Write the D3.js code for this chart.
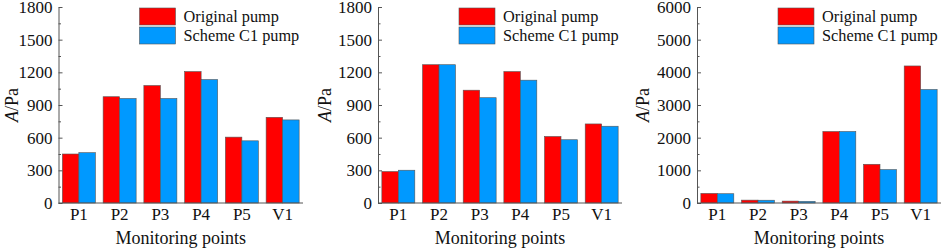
<!DOCTYPE html>
<html>
<head>
<meta charset="utf-8">
<script src="https://d3js.org/d3.v7.min.js"></script>
<style>
  body { margin: 0; background: #fff; }
</style>
</head>
<body>
<svg id="chart" width="941" height="249"></svg>
<script>
const categories = ["P1", "P2", "P3", "P4", "P5", "V1"];
const seriesNames = ["Original pump", "Scheme C1 pump"];
const seriesColors = ["#ff0000", "#0099ff"];

// panel (a)
const panel1Original = [450, 976, 1079, 1207, 605, 787];
const panel1Scheme   = [462, 960, 960, 1134, 571, 763];
const panel1Ticks    = [0, 300, 600, 900, 1200, 1500, 1800];

// panel (b)
const panel2Original = [289, 1270, 1036, 1207, 611, 726];
const panel2Scheme   = [301, 1270, 967, 1128, 581, 705];
const panel2Ticks    = [0, 300, 600, 900, 1200, 1500, 1800];

// panel (c)
const panel3Original = [294, 88, 58, 2189, 1185, 4195];
const panel3Scheme   = [284, 85, 50, 2189, 1023, 3475];
const panel3Ticks    = [0, 1000, 2000, 3000, 4000, 5000, 6000];

const FONT = "'Liberation Serif', 'Times New Roman', serif";
const svg = d3.select("#chart");
const plotTop = 7, plotBottom = 203;

const panels = [
  { x0: 58.5, x1: 303, orig: panel1Original, scheme: panel1Scheme, ticks: panel1Ticks, yTitleX: 12 },
  { x0: 378, x1: 622, orig: panel2Original, scheme: panel2Scheme, ticks: panel2Ticks, yTitleX: 325 },
  { x0: 697, x1: 941, orig: panel3Original, scheme: panel3Scheme, ticks: panel3Ticks, yTitleX: 643 }
];

panels.forEach(p => {
  const g = svg.append("g");
  const yMax = p.ticks[p.ticks.length - 1];
  const y = d3.scaleLinear([0, yMax], [plotBottom, plotTop]);
  const x = d3.scaleBand(categories, [p.x0, p.x1]).paddingInner(0.19).paddingOuter(0.095);
  const xSub = d3.scaleBand([0, 1], [0, x.bandwidth()]);

  const rows = categories.map((c, i) => ({ cat: c, vals: [p.orig[i], p.scheme[i]] }));

  // bars
  g.selectAll("g.grp")
    .data(rows)
    .join("g")
      .attr("class", "grp")
      .attr("transform", d => `translate(${x(d.cat)},0)`)
    .selectAll("rect")
    .data(d => d.vals.map((v, k) => ({ v, k })))
    .join("rect")
      .attr("x", d => xSub(d.k))
      .attr("width", xSub.bandwidth())
      .attr("y", d => y(d.v))
      .attr("height", d => plotBottom - y(d.v))
      .attr("fill", d => seriesColors[d.k])
      .attr("stroke", "#555")
      .attr("stroke-width", 0.6);

  // minor ticks
  const step = p.ticks[1] - p.ticks[0];
  const minor = d3.range(step / 2, yMax, step);
  g.append("g")
    .attr("transform", `translate(${p.x0},0)`)
    .call(d3.axisRight(y).tickValues(minor).tickSize(2.5).tickFormat(""))
    .call(a => a.select(".domain").remove())
    .call(a => a.selectAll("line").attr("stroke", "#555"));

  // y axis
  g.append("g")
    .attr("transform", `translate(${p.x0},0)`)
    .call(d3.axisRight(y).tickValues(p.ticks).tickSize(4).tickSizeOuter(0).tickFormat(""))
    .call(a => a.selectAll("line, path").attr("stroke", "#555"));

  g.append("g")
    .selectAll("text")
    .data(p.ticks)
    .join("text")
      .attr("x", p.x0 - 6)
      .attr("y", d => y(d))
      .attr("dy", "0.36em")
      .attr("text-anchor", "end")
      .attr("fill", "#111")
      .style("font-family", FONT)
      .style("font-size", "17px")
      .text(d => d);

  // x axis
  g.append("g")
    .attr("transform", `translate(0,${plotBottom})`)
    .call(d3.axisBottom(x).tickSize(0).tickPadding(5))
    .call(a => a.select(".domain").attr("stroke", "#555").attr("d", `M${p.x0},0H${p.x1}`))
    .call(a => a.selectAll("text")
      .style("font-size", "17px")
      .style("font-family", FONT)
      .attr("fill", "#111"));

  g.append("text")
    .attr("x", (p.x0 + p.x1) / 2)
    .attr("y", 244)
    .attr("text-anchor", "middle")
    .attr("fill", "#111")
    .style("font-family", FONT)
    .style("font-size", "18px")
    .text("Monitoring points");

  const yt = g.append("text")
    .attr("transform", `translate(${p.yTitleX + 6},${(plotTop + plotBottom) / 2}) rotate(-90)`)
    .attr("text-anchor", "middle")
    .attr("fill", "#111")
    .style("font-family", FONT)
    .style("font-size", "18px");
  yt.append("tspan").style("font-style", "italic").text("A");
  yt.append("tspan").text("/Pa");

  // legend
  const lg = g.append("g").attr("transform", `translate(${p.x0 + 81},8)`);
  seriesNames.forEach((n, k) => {
    lg.append("rect")
      .attr("x", 0).attr("y", k * 19)
      .attr("width", 36).attr("height", 17)
      .attr("fill", seriesColors[k])
      .attr("stroke", "#555").attr("stroke-width", 0.6);
    lg.append("text")
      .attr("x", 44).attr("y", k * 19 + 8.5)
      .attr("dy", "0.36em")
      .attr("fill", "#111")
      .style("font-family", FONT)
      .style("font-size", "16.3px")
      .text(n);
  });
});
</script>
</body>
</html>
